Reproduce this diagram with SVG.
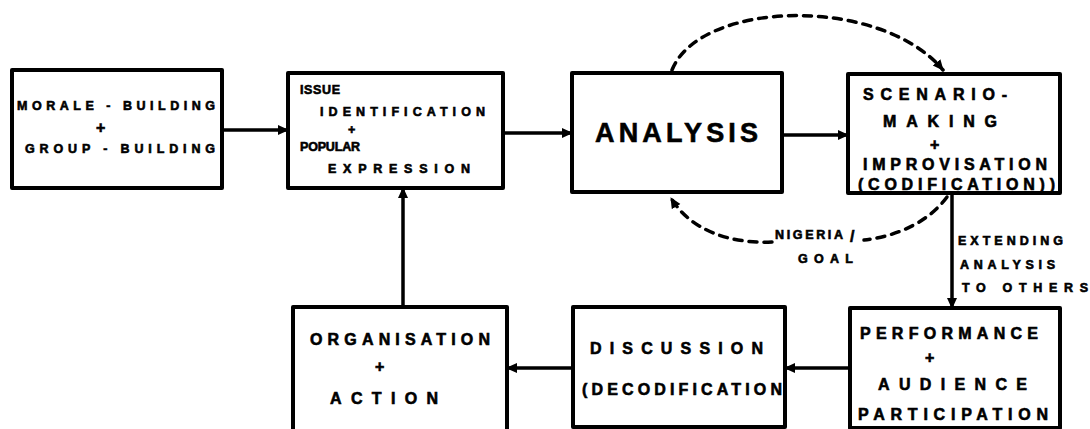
<svg xmlns="http://www.w3.org/2000/svg" width="1090" height="429" viewBox="0 0 1090 429">
<defs>
<style>
.box{fill:#fff;stroke:#000;stroke-width:4;stroke-linejoin:round}
.t{font-family:"Liberation Sans",Arial,sans-serif;font-weight:bold;fill:#000;stroke:#000;stroke-width:0.6}
.s{font-size:12.5px}
.m{font-size:16px}
.l{font-size:27px}
.c{stroke:#000;stroke-width:3.5;fill:none}
.d{stroke:#000;stroke-width:3.5;fill:none;stroke-dasharray:8 7;stroke-linecap:round}
</style>
<marker id="ah" markerUnits="userSpaceOnUse" markerWidth="12" markerHeight="12" refX="10" refY="6" orient="auto">
<path d="M0,1 L11,6 L0,11 z" fill="#000"/>
</marker>
</defs>
<rect width="1090" height="429" fill="#fff"/>

<g id="connectors">
<line class="c" x1="222" y1="130" x2="288" y2="130" marker-end="url(#ah)"/>
<line class="c" x1="503" y1="133" x2="572" y2="133" marker-end="url(#ah)"/>
<line class="c" x1="782" y1="135" x2="848" y2="135" marker-end="url(#ah)"/>
<line class="c" x1="952" y1="193" x2="952" y2="308" marker-end="url(#ah)"/>
<line class="c" x1="850" y1="368" x2="785" y2="368" marker-end="url(#ah)"/>
<line class="c" x1="573" y1="368" x2="507" y2="368" marker-end="url(#ah)"/>
<line class="c" x1="403" y1="307" x2="403" y2="188" marker-end="url(#ah)"/>
<path class="d" d="M672 70 C700 0, 880 -5, 943 70" marker-end="url(#ah)"/>
<path class="d" d="M947 197 C930 220, 900 236, 864 240"/>
<path class="d" d="M772 242 C730 244, 690 230, 671 198" marker-end="url(#ah)"/>
<text class="t s" x="775" y="239" textLength="68" lengthAdjust="spacing">NIGERIA</text>
<text class="t" x="850" y="242" font-size="16">/</text>
<text class="t s" x="798" y="263" textLength="55" lengthAdjust="spacing">GOAL</text>
<text class="t s" x="958" y="245" textLength="105" lengthAdjust="spacing">EXTENDING</text>
<text class="t s" x="960" y="269" textLength="95" lengthAdjust="spacing">ANALYSIS</text>
<text class="t s" x="962" y="292" textLength="126" lengthAdjust="spacing">TO  OTHERS</text>
</g>

<g id="n1">
<rect class="box" x="12" y="70" width="210" height="118"/>
<text class="t s" x="17" y="110" textLength="198" lengthAdjust="spacing">MORALE - BUILDING</text>
<text class="t m" x="96" y="133">+</text>
<text class="t s" x="25" y="153" textLength="190" lengthAdjust="spacing">GROUP - BUILDING</text>
</g>

<g id="n2">
<rect class="box" x="288" y="73" width="215" height="115"/>
<text class="t s" x="300" y="94" textLength="40" lengthAdjust="spacing">ISSUE</text>
<text class="t s" x="320" y="116" textLength="165" lengthAdjust="spacing">IDENTIFICATION</text>
<text class="t s" x="348" y="134">+</text>
<text class="t s" x="300" y="151" textLength="60" lengthAdjust="spacing">POPULAR</text>
<text class="t s" x="328" y="173" textLength="142" lengthAdjust="spacing">EXPRESSION</text>
</g>

<g id="n3">
<rect class="box" x="572" y="73" width="210" height="119"/>
<text class="t l" x="595" y="142" textLength="163" lengthAdjust="spacing">ANALYSIS</text>
</g>

<g id="n4">
<rect class="box" x="848" y="74" width="212" height="119"/>
<text class="t m" x="863" y="100" textLength="144" lengthAdjust="spacing">SCENARIO-</text>
<text class="t m" x="883" y="127" textLength="114" lengthAdjust="spacing">MAKING</text>
<text class="t m" x="930" y="150">+</text>
<text class="t m" x="863" y="170" textLength="184" lengthAdjust="spacing">IMPROVISATION</text>
<text class="t m" x="858" y="190" textLength="197" lengthAdjust="spacing">(CODIFICATION))</text>
</g>

<g id="n5">
<rect class="box" x="293" y="307" width="214" height="124"/>
<text class="t m" x="310" y="345" textLength="180" lengthAdjust="spacing">ORGANISATION</text>
<text class="t m" x="375" y="372">+</text>
<text class="t m" x="330" y="404" textLength="108" lengthAdjust="spacing">ACTION</text>
</g>

<g id="n6">
<rect class="box" x="573" y="307" width="212" height="120"/>
<text class="t m" x="590" y="354" textLength="173" lengthAdjust="spacing">DISCUSSION</text>
<text class="t m" x="582" y="395" textLength="200" lengthAdjust="spacing">(DECODIFICATION</text>
</g>

<g id="n7">
<rect class="box" x="850" y="308" width="210" height="120"/>
<text class="t m" x="860" y="339" textLength="178" lengthAdjust="spacing">PERFORMANCE</text>
<text class="t m" x="925" y="363">+</text>
<text class="t m" x="878" y="390" textLength="149" lengthAdjust="spacing">AUDIENCE</text>
<text class="t m" x="858" y="420" textLength="190" lengthAdjust="spacing">PARTICIPATION</text>
</g>
</svg>
